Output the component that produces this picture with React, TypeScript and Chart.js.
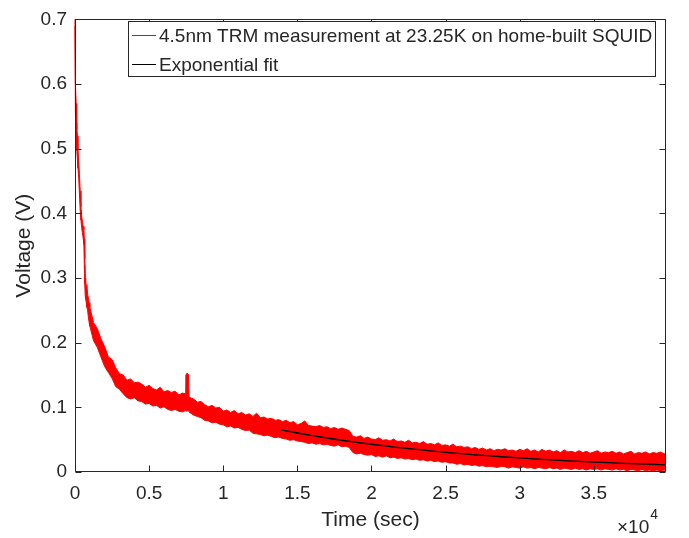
import React, { useEffect, useRef } from "react";
import { Chart, registerables } from "chart.js";

Chart.register(...registerables);

// Time axis (s) of the measured band (envelope of the noisy trace)
const timeSec: number[] = [
  0, 15, 30, 50, 70, 100, 130, 160, 200, 250, 300, 350, 400, 450, 500, 550, 600, 630, 660, 690, 720, 760, 800, 850, 900, 950,
  1000, 1250, 1500, 1750, 2000, 2250, 2500, 2750, 3000, 3250, 3500, 3750, 4000, 4250, 4500, 4750,
  5000, 5250, 5500, 5750, 6000, 6250, 6500, 6750, 7000, 7250, 7450, 7480, 7560, 7650, 7700, 7750,
  8000, 8250, 8500, 8750, 9000, 9250, 9500, 9750, 10000, 10250, 10500, 10750, 11000, 11250, 11500, 11750,
  12000, 12250, 12500, 12750, 13000, 13250, 13500, 13750, 14000, 14250, 14500, 14750, 15000, 15250, 15500, 15750,
  16000, 16250, 16500, 16750, 17000, 17250, 17500, 17750, 18000, 18250, 18500, 18750, 19000, 19250, 19500, 19750,
  20000, 20250, 20500, 20750, 21000, 21250, 21500, 21750, 22000, 22250, 22500, 22750, 23000, 23250, 23500, 23750,
  24000, 24250, 24500, 24750, 25000, 25250, 25500, 25750, 26000, 26250, 26500, 26750, 27000, 27250, 27500, 27750,
  28000, 28250, 28500, 28750, 29000, 29250, 29500, 29750, 30000, 30250, 30500, 30750, 31000, 31250, 31500, 31750,
  32000, 32250, 32500, 32750, 33000, 33250, 33500, 33750, 34000, 34250, 34500, 34750, 35000, 35250, 35500, 35750,
  36000, 36250, 36500, 36750, 37000, 37250, 37500, 37750, 38000, 38250, 38500, 38750, 39000, 39250, 39500, 39750, 39870,
];

// Upper edge of the measured trace (V)
const measUpper: number[] = [
  0.70, 0.68, 0.64, 0.60, 0.57, 0.55, 0.53, 0.52, 0.50, 0.48, 0.46, 0.435, 0.41, 0.395, 0.388, 0.38, 0.375, 0.36, 0.33, 0.30, 0.29, 0.285, 0.29, 0.275, 0.27, 0.262,
  0.255, 0.231, 0.222, 0.206, 0.194, 0.178, 0.174, 0.161, 0.152, 0.150, 0.142, 0.144, 0.138, 0.139, 0.136, 0.131,
  0.134, 0.129, 0.127, 0.131, 0.124, 0.126, 0.123, 0.125, 0.119, 0.122, 0.121, 0.150, 0.153, 0.151, 0.116, 0.115,
  0.113, 0.108, 0.109, 0.104, 0.101, 0.103, 0.099, 0.100, 0.094, 0.096, 0.092, 0.095, 0.090, 0.092, 0.088, 0.090,
  0.086, 0.091, 0.084, 0.085, 0.082, 0.083, 0.080, 0.081, 0.078, 0.080, 0.076, 0.078, 0.073, 0.075, 0.079, 0.072,
  0.071, 0.070, 0.072, 0.069, 0.070, 0.067, 0.069, 0.066, 0.068, 0.066, 0.064, 0.055, 0.054, 0.056, 0.052, 0.054,
  0.051, 0.050, 0.053, 0.049, 0.050, 0.048, 0.051, 0.047, 0.048, 0.046, 0.049, 0.045, 0.046, 0.044, 0.047, 0.043,
  0.044, 0.042, 0.045, 0.041, 0.042, 0.040, 0.043, 0.039, 0.040, 0.038, 0.039, 0.036, 0.038, 0.035, 0.037, 0.034,
  0.036, 0.033, 0.035, 0.034, 0.036, 0.033, 0.034, 0.032, 0.035, 0.033, 0.036, 0.032, 0.034, 0.031, 0.035, 0.032,
  0.034, 0.031, 0.033, 0.030, 0.034, 0.031, 0.032, 0.030, 0.033, 0.030, 0.032, 0.029, 0.031, 0.033, 0.029, 0.031,
  0.030, 0.032, 0.029, 0.031, 0.028, 0.030, 0.032, 0.028, 0.030, 0.029, 0.031, 0.028, 0.030, 0.029, 0.031, 0.028, 0.030,
];

// Lower edge of the measured trace (V)
const measLower: number[] = [
  0.69, 0.63, 0.58, 0.55, 0.54, 0.51, 0.50, 0.485, 0.47, 0.455, 0.43, 0.405, 0.39, 0.378, 0.37, 0.362, 0.352, 0.32, 0.29, 0.272, 0.268, 0.262, 0.255, 0.25, 0.24, 0.232,
  0.226, 0.203, 0.193, 0.178, 0.163, 0.154, 0.145, 0.132, 0.128, 0.121, 0.115, 0.113, 0.115, 0.110, 0.109, 0.105,
  0.106, 0.102, 0.103, 0.099, 0.101, 0.097, 0.095, 0.097, 0.094, 0.093, 0.095, 0.095, 0.094, 0.096, 0.093, 0.092,
  0.088, 0.086, 0.084, 0.080, 0.079, 0.076, 0.077, 0.074, 0.073, 0.070, 0.071, 0.068, 0.069, 0.066, 0.064, 0.065,
  0.060, 0.059, 0.058, 0.056, 0.057, 0.055, 0.053, 0.054, 0.052, 0.051, 0.049, 0.050, 0.048, 0.047, 0.046, 0.044,
  0.045, 0.043, 0.044, 0.042, 0.043, 0.041, 0.040, 0.042, 0.039, 0.040, 0.038, 0.030, 0.028, 0.029, 0.027, 0.026,
  0.027, 0.024, 0.025, 0.023, 0.025, 0.022, 0.023, 0.021, 0.022, 0.020, 0.021, 0.019, 0.020, 0.018, 0.019, 0.017,
  0.018, 0.016, 0.017, 0.015, 0.016, 0.014, 0.014, 0.012, 0.013, 0.011, 0.012, 0.010, 0.011, 0.009, 0.010, 0.008,
  0.009, 0.008, 0.007, 0.009, 0.008, 0.006, 0.008, 0.007, 0.006, 0.008, 0.006, 0.007, 0.005, 0.007, 0.006, 0.005,
  0.007, 0.005, 0.006, 0.004, 0.006, 0.005, 0.004, 0.006, 0.004, 0.005, 0.003, 0.005, 0.004, 0.005, 0.003, 0.005,
  0.004, 0.003, 0.005, 0.003, 0.004, 0.002, 0.004, 0.003, 0.002, 0.004, 0.002, 0.003, 0.002, 0.003, 0.002, 0.003, 0.002,
];

// Exponential fit
const fitTime: number[] = [
  13900, 15000, 16000, 17000, 18000, 19000, 20000, 21000, 22000, 23000, 24000, 25000, 26000, 27000,
  28000, 29000, 30000, 31000, 32000, 33000, 34000, 35000, 36000, 37000, 38000, 39000, 39870,
];
const fitVolt: number[] = [
  0.065, 0.0603, 0.0563, 0.0526, 0.0491, 0.0459, 0.0429, 0.0400, 0.0374, 0.0349, 0.0326, 0.0305, 0.0285, 0.0266,
  0.0248, 0.0232, 0.0217, 0.0202, 0.0189, 0.0176, 0.0165, 0.0154, 0.0144, 0.0134, 0.0125, 0.0117, 0.0110,
];

const xTicks: number[] = [0, 5000, 10000, 15000, 20000, 25000, 30000, 35000];
const xTickLabels: string[] = ["0", "0.5", "1", "1.5", "2", "2.5", "3", "3.5"];
const yTicks: number[] = [0, 0.1, 0.2, 0.3, 0.4, 0.5, 0.6, 0.7];
const yTickLabels: string[] = ["0", "0.1", "0.2", "0.3", "0.4", "0.5", "0.6", "0.7"];

const measLabel = "4.5nm TRM measurement at 23.25K on home-built SQUID";
const fitLabel = "Exponential fit";
const xTitle = "Time (sec)";
const yTitle = "Voltage (V)";

const FONT = "'Liberation Sans', Arial, Helvetica, sans-serif";
const INK = "#262626";

const framePlugin = {
  id: "matlabFrame",
  afterDraw(chart: any) {
    const { ctx, chartArea } = chart;
    const { left, right, top, bottom } = chartArea;
    const xs = chart.scales.x;
    const ys = chart.scales.y;
    ctx.save();
    ctx.strokeStyle = INK;
    ctx.lineWidth = 1;
    const L = Math.round(left) + 0.5;
    const R = Math.round(right) - 0.5;
    const T = Math.round(top) + 0.5;
    const B = Math.round(bottom) - 0.5;
    ctx.beginPath();
    ctx.rect(L, T, R - L, B - T);
    ctx.stroke();
    const tl = 6;
    ctx.beginPath();
    xTicks.forEach((v) => {
      const px = Math.round(xs.getPixelForValue(v)) + 0.5;
      ctx.moveTo(px, B);
      ctx.lineTo(px, B - tl);
      ctx.moveTo(px, T);
      ctx.lineTo(px, T + tl);
    });
    yTicks.forEach((v) => {
      const py = Math.round(ys.getPixelForValue(v)) + 0.5;
      ctx.moveTo(L, py);
      ctx.lineTo(L + tl, py);
      ctx.moveTo(R, py);
      ctx.lineTo(R - tl, py);
    });
    ctx.stroke();

    // exponent label
    ctx.fillStyle = INK;
    ctx.textBaseline = "alphabetic";
    ctx.textAlign = "left";
    ctx.font = `19px ${FONT}`;
    const base = "\u00d710";
    ctx.fillText(base, 617, 533);
    const w = ctx.measureText(base).width;
    ctx.font = `14px ${FONT}`;
    ctx.fillText("4", 617 + w + 1, 519);

    // legend
    const bx = 128.5, by = 21.5, bw = 527, bh = 55;
    ctx.fillStyle = "#ffffff";
    ctx.fillRect(bx, by, bw, bh);
    ctx.strokeStyle = INK;
    ctx.strokeRect(bx, by, bw, bh);
    const rows = [
      { label: chart.data.datasets[0].label, color: "#ff0000", y: 35.5 },
      { label: chart.data.datasets[2].label, color: "#000000", y: 64.5 },
    ];
    ctx.font = `19px ${FONT}`;
    ctx.textBaseline = "middle";
    rows.forEach((r) => {
      ctx.strokeStyle = r.color;
      ctx.lineWidth = 1;
      ctx.beginPath();
      ctx.moveTo(132, r.y);
      ctx.lineTo(156, r.y);
      ctx.stroke();
      ctx.fillStyle = INK;
      ctx.fillText(r.label, 159, r.y + 1);
    });
    ctx.restore();
  },
};

export default function App() {
  const ref = useRef<HTMLCanvasElement | null>(null);

  useEffect(() => {
    document.body.style.margin = "0";
    const canvas = ref.current;
    if (!canvas) return;
    const upper = timeSec.map((t, i) => ({ x: t, y: measUpper[i] }));
    const lower = timeSec.map((t, i) => ({ x: t, y: measLower[i] }));
    const fit = fitTime.map((t, i) => ({ x: t, y: fitVolt[i] }));

    const chart = new Chart(canvas, {
      type: "line",
      data: {
        datasets: [
          {
            label: measLabel,
            data: upper,
            borderColor: "#ff0000",
            backgroundColor: "#ff0000",
            borderWidth: 1,
            pointRadius: 0,
            fill: false,
            tension: 0,
            order: 1,
            clip: 3,
          },
          {
            label: "lower",
            data: lower,
            borderColor: "#ff0000",
            backgroundColor: "#ff0000",
            borderWidth: 1,
            pointRadius: 0,
            fill: "-1",
            tension: 0,
            order: 1,
            clip: 3,
          },
          {
            label: fitLabel,
            data: fit,
            borderColor: "#000000",
            borderWidth: 1.3,
            pointRadius: 0,
            fill: false,
            tension: 0,
            order: 0,
          },
        ],
      },
      options: {
        responsive: false,
        animation: false,
        events: [],
        layout: { padding: { top: 12, right: 23, left: 0, bottom: 0 } },
        plugins: {
          legend: { display: false },
          tooltip: { enabled: false },
        },
        scales: {
          x: {
            type: "linear",
            min: 0,
            max: 39870,
            grid: { display: false, drawTicks: false },
            border: { display: false },
            afterFit: (s: any) => {
              s.height = 66;
            },
            afterBuildTicks: (s: any) => {
              s.ticks = xTicks.map((v) => ({ value: v }));
            },
            ticks: {
              autoSkip: false,
              maxRotation: 0,
              padding: 10,
              color: INK,
              font: { family: FONT, size: 19 },
              callback: (v: any) => {
                const i = xTicks.indexOf(Number(v));
                return i >= 0 ? xTickLabels[i] : "";
              },
            },
            title: {
              display: true,
              text: xTitle,
              color: INK,
              font: { family: FONT, size: 21 },
              padding: { top: 0, bottom: 5 },
            },
          },
          y: {
            type: "linear",
            min: 0,
            max: 0.7,
            grid: { display: false, drawTicks: false },
            border: { display: false },
            afterFit: (s: any) => {
              s.width = 75;
            },
            afterBuildTicks: (s: any) => {
              s.ticks = yTicks.map((v) => ({ value: v }));
            },
            ticks: {
              autoSkip: false,
              padding: 8,
              color: INK,
              font: { family: FONT, size: 19 },
              callback: (v: any) => {
                const i = yTicks.findIndex((t) => Math.abs(t - Number(v)) < 1e-9);
                return i >= 0 ? yTickLabels[i] : "";
              },
            },
            title: {
              display: true,
              text: yTitle,
              color: INK,
              font: { family: FONT, size: 21 },
              padding: { top: 12, bottom: 0 },
            },
          },
        },
      },
      plugins: [framePlugin],
    });
    return () => chart.destroy();
  }, []);

  return (
    <div style={{ width: 689, height: 538 }}>
      <canvas ref={ref} width={689} height={538} style={{ display: "block" }} />
    </div>
  );
}
